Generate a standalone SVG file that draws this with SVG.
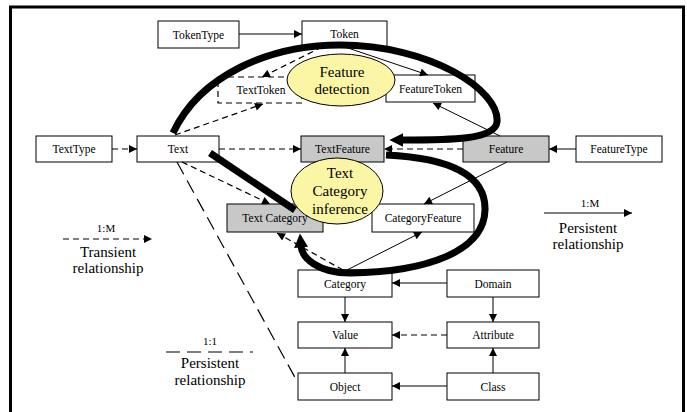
<svg xmlns="http://www.w3.org/2000/svg" width="687" height="412" viewBox="0 0 687 412">
<style>
.box{fill:#fff;stroke:#000;stroke-width:1}
.gray{fill:#c8c8c8;stroke:#000;stroke-width:1}
.dbox{fill:#fff;stroke:#000;stroke-width:1.2;stroke-dasharray:6,4}
.ell{fill:#fbf6a6;stroke:#000;stroke-width:1}
.t{font-family:"Liberation Serif","Times New Roman",serif;font-size:11.5px;text-anchor:middle;dominant-baseline:central;fill:#000}
.big{font-family:"Liberation Serif","Times New Roman",serif;font-size:15px;text-anchor:middle;dominant-baseline:central;fill:#000}
.small{font-family:"Liberation Serif","Times New Roman",serif;font-size:11px;text-anchor:middle;dominant-baseline:central;fill:#000}
.s{fill:none;stroke:#000;stroke-width:1;marker-end:url(#ah)}
.d{fill:none;stroke:#000;stroke-width:1.2;stroke-dasharray:6,4;marker-end:url(#ah)}
.ld{fill:none;stroke:#000;stroke-width:1.2;stroke-dasharray:14,7}
.th{fill:none;stroke:#000;stroke-width:7}
</style>
<defs>
<marker id="ah" viewBox="0 0 10 10" refX="10" refY="5" markerWidth="9" markerHeight="8" orient="auto" markerUnits="userSpaceOnUse"><path d="M0,0 L10,5 L0,10 z" fill="#000"/></marker>
<marker id="tah" viewBox="0 0 10 10" refX="1" refY="5" markerWidth="14" markerHeight="14" orient="auto" markerUnits="userSpaceOnUse"><path d="M0,0 L10,5 L0,10 z" fill="#000"/></marker>
</defs>
<rect x="0" y="0" width="687" height="412" fill="#fff"/>
<rect x="10.5" y="7" width="673" height="420" fill="none" stroke="#000" stroke-width="3"/>

<g id="TokenType"><rect class="box" x="158" y="21" width="81" height="27"/><text class="t" x="198.5" y="34.5">TokenType</text></g>
<g id="Token"><rect class="box" x="302" y="21" width="85" height="26"/><text class="t" x="344.5" y="34">Token</text></g>
<g id="TextToken"><rect class="dbox" x="218" y="77" width="84" height="26"/><text class="t" x="261" y="89.5">TextToken</text></g>
<g id="FeatureToken"><rect class="box" x="386" y="75" width="89" height="27"/><text class="t" x="430.5" y="88.5">FeatureToken</text></g>
<g id="TextType"><rect class="box" x="36" y="136" width="76" height="26"/><text class="t" x="74" y="149">TextType</text></g>
<g id="Text"><rect class="box" x="137" y="136" width="82" height="26"/><text class="t" x="178" y="149">Text</text></g>
<g id="TextFeature"><rect class="gray" x="301" y="136" width="83" height="26"/><text class="t" x="342.5" y="149">TextFeature</text></g>
<g id="Feature"><rect class="gray" x="463" y="136" width="86" height="26"/><text class="t" x="506" y="149">Feature</text></g>
<g id="FeatureType"><rect class="box" x="576" y="136" width="86" height="26"/><text class="t" x="619" y="149">FeatureType</text></g>
<g id="TextCategory"><rect class="gray" x="227" y="204" width="96" height="28"/><text class="t" x="275" y="218">Text Category</text></g>
<g id="CategoryFeature"><rect class="box" x="372" y="204" width="102" height="28"/><text class="t" x="423" y="218">CategoryFeature</text></g>
<g id="Category"><rect class="box" x="298" y="270" width="94" height="27"/><text class="t" x="345" y="283.5">Category</text></g>
<g id="Domain"><rect class="box" x="447" y="270" width="92" height="27"/><text class="t" x="493" y="283.5">Domain</text></g>
<g id="Value"><rect class="box" x="298" y="322" width="94" height="26"/><text class="t" x="345" y="335">Value</text></g>
<g id="Attribute"><rect class="box" x="447" y="322" width="92" height="26"/><text class="t" x="493" y="335">Attribute</text></g>
<g id="Object"><rect class="box" x="298" y="373" width="94" height="27"/><text class="t" x="345" y="386.5">Object</text></g>
<g id="Class"><rect class="box" x="447" y="373" width="92" height="27"/><text class="t" x="493" y="386.5">Class</text></g>

<g id="connectors">
<line class="s" x1="239" y1="34" x2="302" y2="34"/>
<line class="d" x1="112" y1="149" x2="137" y2="149"/>
<line class="d" x1="219" y1="149" x2="301" y2="149"/>
<line class="d" x1="463" y1="149" x2="384" y2="149"/>
<line class="s" x1="576" y1="149" x2="549" y2="149"/>
<line class="d" x1="175" y1="135" x2="263" y2="104"/>
<line class="d" x1="322" y1="47" x2="262" y2="77"/>
<line class="s" x1="345" y1="47" x2="428" y2="75"/>
<line class="s" x1="500" y1="136" x2="433" y2="103"/>
<line class="s" x1="507" y1="162" x2="424" y2="204"/>
<line class="s" x1="347" y1="270" x2="422" y2="232"/>
<line class="d" x1="182" y1="162" x2="270" y2="204"/>
<line class="d" x1="343" y1="270" x2="277" y2="233"/>
<line class="ld" x1="177" y1="162" x2="298" y2="383"/>
<line class="s" x1="345" y1="297" x2="345" y2="322"/>
<line class="s" x1="447" y1="283" x2="392" y2="283"/>
<line class="s" x1="493" y1="297" x2="493" y2="322"/>
<line class="d" x1="447" y1="335" x2="392" y2="335"/>
<line class="s" x1="345" y1="373" x2="345" y2="348"/>
<line class="s" x1="493" y1="373" x2="493" y2="348"/>
<line class="s" x1="447" y1="386" x2="392" y2="386"/>
<path class="th" d="M173,133 C200,75 270,45 340,45 C430,45 500,90 497,122 C495,140 450,140 402,140" marker-end="url(#tah)"/>
<line class="th" x1="210" y1="153" x2="295" y2="210"/>
<path class="th" d="M386,155 C450,158 486,175 485,210 C484,250 430,272 350,273 C318,273 302,258 301,246" marker-end="url(#tah)"/>
</g>

<g id="FeatureDetection"><ellipse class="ell" cx="341" cy="80" rx="54" ry="26"/><text class="big" x="342" y="72">Feature</text><text class="big" x="342" y="89">detection</text></g>
<g id="TextCategoryInference"><ellipse class="ell" cx="337" cy="191" rx="46" ry="33"/><text class="big" x="340" y="173">Text</text><text class="big" x="340" y="191">Category</text><text class="big" x="340" y="209">inference</text></g>

<g id="legend">
<text class="small" x="106" y="228">1:M</text>
<line class="d" x1="63" y1="239" x2="152" y2="239"/>
<text class="big" x="108" y="252">Transient</text>
<text class="big" x="108" y="268">relationship</text>
<text class="small" x="590" y="203">1:M</text>
<line class="s" x1="544" y1="213" x2="632" y2="213"/>
<text class="big" x="588" y="228">Persistent</text>
<text class="big" x="588" y="244">relationship</text>
<text class="small" x="210" y="341">1:1</text>
<line class="ld" x1="166" y1="352" x2="253" y2="352" stroke-dasharray="12,8"/>
<text class="big" x="210" y="363">Persistent</text>
<text class="big" x="210" y="380">relationship</text>
</g>
</svg>
